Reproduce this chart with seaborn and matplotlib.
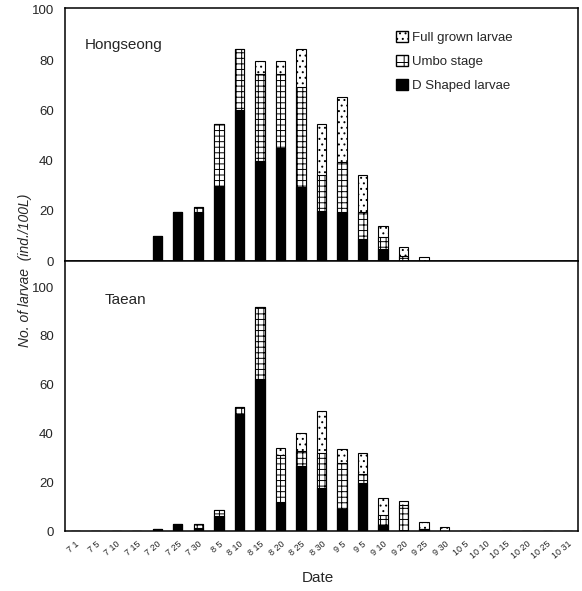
import matplotlib
matplotlib.use("Agg")
import matplotlib.pyplot as plt
import matplotlib.patches as mpatches
import numpy as np
import pandas as pd
import seaborn as sns

# date labels on the x axis (as printed in the figure)
dates = ["7 1", "7 5", "7 10", "7 15", "7 20", "7 25", "7 30", "8 5", "8 10",
         "8 15", "8 20", "8 25", "8 30", "9 5", "9 5", "9 10", "9 20", "9 25",
         "9 30", "10 5", "10 10", "10 15", "10 20", "10 25", "10 31"]

# Hongseong (ind./100L)
hong_d = [0, 0, 0, 0, 10, 19.5, 19.5, 30, 60, 40, 45, 29.5, 20, 19.5, 9, 5, 0, 0, 0, 0, 0, 0, 0, 0, 0]
hong_umbo = [0, 0, 0, 0, 0, 0, 2, 24.5, 24.5, 34.5, 29.5, 40, 14.5, 20, 10.5, 4.5, 2, 0, 0, 0, 0, 0, 0, 0, 0]
hong_full = [0, 0, 0, 0, 0, 0, 0, 0, 0, 5, 5, 15, 20, 26, 15, 4.5, 3.5, 1.5, 0, 0, 0, 0, 0, 0, 0]

# Taean (ind./100L)
taean_d = [0, 0, 0, 0, 1, 2.7, 1.2, 6, 48, 62.5, 12, 26.5, 17.5, 9, 19.5, 2.5, 0, 1, 0, 0, 0, 0, 0, 0, 0]
taean_umbo = [0, 0, 0, 0, 0, 0, 1.5, 2.6, 3, 29.5, 19, 6.5, 14.5, 19, 4, 4, 10.7, 0, 0, 0, 0, 0, 0, 0, 0]
taean_full = [0, 0, 0, 0, 0, 0, 0, 0, 0, 0, 3, 7, 17, 5.5, 8.5, 7, 1.5, 2.5, 1.5, 0, 0, 0, 0, 0, 0]

sns.set_theme(style="white")
plt.rcParams['font.family'] = ['Liberation Sans', 'DejaVu Sans']
plt.rcParams['hatch.linewidth'] = 0.7

fig = plt.figure(figsize=(5.82, 5.91), dpi=100)
ax1 = fig.add_axes([0.1117, 0.558, 0.8813, 0.4285])
ax2 = fig.add_axes([0.1117, 0.1015, 0.8813, 0.4565])


def stacked(ax, d, umbo, full):
    df = pd.DataFrame({"pos": np.arange(len(dates)), "d": d, "umbo": umbo, "full": full})
    df["du"] = df["d"] + df["umbo"]
    df["total"] = df["du"] + df["full"]
    common = dict(x="pos", errorbar=None, width=0.45, saturation=1,
                  edgecolor="black", linewidth=0.8, ax=ax)
    sns.barplot(data=df, y="total", color="white", hatch="...", **common)
    sns.barplot(data=df, y="du", color="white", hatch="+++", **common)
    sns.barplot(data=df, y="d", color="black", **common)
    ax.set_xlim(-0.5, len(dates) - 0.5)
    ax.set_xlabel("")
    ax.set_ylabel("")
    ax.set_yticks([0, 20, 40, 60, 80, 100])
    ax.tick_params(axis="y", length=0, labelsize=9.5, pad=8)
    ax.tick_params(axis="x", length=0)
    for s in ax.spines.values():
        s.set_color("black")
        s.set_linewidth(1.1)


stacked(ax1, hong_d, hong_umbo, hong_full)
stacked(ax2, taean_d, taean_umbo, taean_full)

ax1.set_ylim(0, 100.8)
ax2.set_ylim(0, 110.6)
ax1.set_xticks([])
ax2.set_xticks(np.arange(len(dates)))
ax2.set_xticklabels(dates, rotation=40, ha="right", rotation_mode="anchor", fontsize=6.5)
ax2.tick_params(axis="x", pad=6)

ax1.text(0.039, 0.854, "Hongseong", transform=ax1.transAxes, fontsize=11, va="center")
ax2.text(0.078, 0.855, "Taean", transform=ax2.transAxes, fontsize=11, va="center")

handles = [
    mpatches.Patch(facecolor="white", edgecolor="black", hatch="...", label="Full grown larvae"),
    mpatches.Patch(facecolor="white", edgecolor="black", hatch="++", label="Umbo stage"),
    mpatches.Patch(facecolor="black", edgecolor="black", label="D Shaped larvae"),
]
ax1.legend(handles=handles, loc="upper left", bbox_to_anchor=(0.635, 0.93), frameon=False,
           fontsize=9.5, handlelength=0.9, handleheight=0.9, handletextpad=0.3,
           labelspacing=0.85, borderaxespad=0)

fig.text(0.043, 0.543, "No. of larvae  (ind./100L)", rotation=90, ha="center", va="center",
         fontsize=10, style="italic")
fig.text(0.546, 0.022, "Date", ha="center", va="center", fontsize=11)

fig.savefig("out.png", dpi=100)
